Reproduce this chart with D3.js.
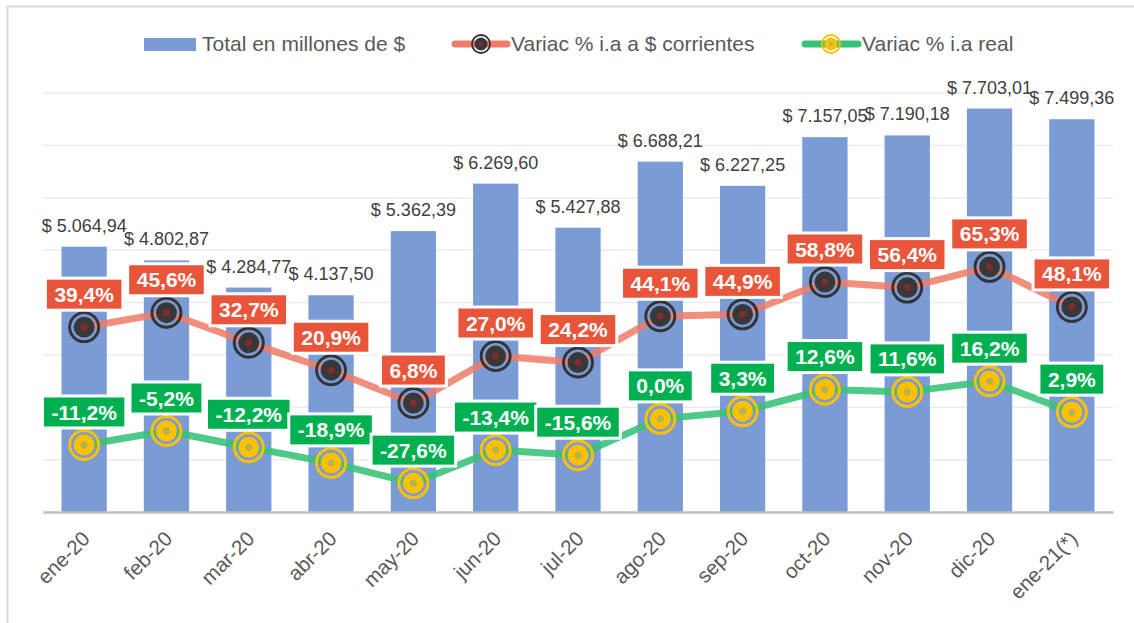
<!DOCTYPE html>
<html>
<head>
<meta charset="utf-8">
<script src="https://cdn.jsdelivr.net/npm/d3@7"></script>
<style>
  body { margin: 0; background: #fff; }
  svg { font-family: "Liberation Sans", Arial, sans-serif; }
</style>
</head>
<body>
<svg width="1134" height="623"></svg>
<script>
var categories = ["ene-20", "feb-20", "mar-20", "abr-20", "may-20", "jun-20", "jul-20",
    "ago-20", "sep-20", "oct-20", "nov-20", "dic-20", "ene-21(*)"];
var totalMillones = [5064.94, 4802.87, 4284.77, 4137.50, 5362.39, 6269.60, 5427.88,
    6688.21, 6227.25, 7157.05, 7190.18, 7703.01, 7499.36];
var variacCorrientes = [39.4, 45.6, 32.7, 20.9, 6.8, 27.0, 24.2, 44.1, 44.9, 58.8, 56.4, 65.3, 48.1];
var variacReal = [-11.2, -5.2, -12.2, -18.9, -27.6, -13.4, -15.6, 0.0, 3.3, 12.6, 11.6, 16.2, 2.9];
var seriesNames = ["Total en millones de $", "Variac % i.a a $ corrientes", "Variac % i.a real"];

var es = d3.formatLocale({decimal: ",", thousands: ".", grouping: [3], currency: ["$ ", ""], minus: "-"});
var fmtMoney = es.format("$,.2f");
var fmtPct = function (v) { return es.format(".1f")(v) + "%"; };

var svg = d3.select("svg");
var margin = {top: 93, right: 21, bottom: 111, left: 43},
    width = 1134 - margin.left - margin.right,
    height = 623 - margin.top - margin.bottom;

var data = categories.map(function (c, i) {
    return {cat: c, total: totalMillones[i], corr: variacCorrientes[i], real: variacReal[i]};
});

// frame
svg.append("path")
    .attr("d", "M7.5,623 V6.5 H1134")
    .attr("fill", "none")
    .attr("stroke", "#d9d9d9")
    .attr("stroke-width", 2);

var g = svg.append("g").attr("transform", "translate(" + margin.left + "," + margin.top + ")");

var x = d3.scaleBand().domain(categories).range([0, width]).paddingInner(0.45).paddingOuter(0.225);
var y = d3.scaleLinear().domain([0, 8000]).range([height, 0]);
var y2 = d3.scaleLinear().domain([-40, 140]).range([height, 0]);

// gridlines
g.append("g")
    .selectAll("line")
    .data(y.ticks(8).filter(function (t) { return t > 0; }))
    .enter().append("line")
    .attr("x1", 0).attr("x2", width)
    .attr("y1", function (d) { return y(d); })
    .attr("y2", function (d) { return y(d); })
    .attr("stroke", "#ebebeb")
    .attr("stroke-width", 1.5);

// bars
g.selectAll(".bar")
    .data(data)
    .enter().append("rect")
    .attr("class", "bar")
    .attr("x", function (d) { return x(d.cat); })
    .attr("y", function (d) { return y(d.total); })
    .attr("width", x.bandwidth())
    .attr("height", function (d) { return height - y(d.total); })
    .attr("fill", "#7b9bd6");

// x axis
var xAxis = g.append("g")
    .attr("transform", "translate(0," + height + ")")
    .call(d3.axisBottom(x).tickSize(0).tickFormat(""));
xAxis.select(".domain").attr("stroke", "#bfbfbf").attr("stroke-width", 2.5);

g.append("g")
    .selectAll("text")
    .data(categories)
    .enter().append("text")
    .attr("transform", function (d) {
        return "translate(" + (x(d) + x.bandwidth() / 2 + 7) + "," + (height + 28) + ") rotate(-45)";
    })
    .attr("text-anchor", "end")
    .attr("font-size", 20.5)
    .attr("fill", "#595959")
    .text(function (d) { return d; });

var cx = function (d) { return x(d.cat) + x.bandwidth() / 2; };

// lines
var lineCorr = d3.line().x(cx).y(function (d) { return y2(d.corr); });
var lineReal = d3.line().x(cx).y(function (d) { return y2(d.real); });

g.append("path")
    .datum(data)
    .attr("d", lineCorr)
    .attr("fill", "none")
    .attr("stroke", "#ef7b68")
    .attr("stroke-opacity", 0.85)
    .attr("stroke-width", 7)
    .attr("stroke-linejoin", "round");

g.append("path")
    .datum(data)
    .attr("d", lineReal)
    .attr("fill", "none")
    .attr("stroke", "#37c276")
    .attr("stroke-opacity", 0.88)
    .attr("stroke-width", 7)
    .attr("stroke-linejoin", "round");

function marker(sel, ring, fill, dot, r) {
    sel.append("circle").attr("r", r).attr("fill", "none").attr("stroke", ring).attr("stroke-width", r * 0.2);
    sel.append("circle").attr("r", r * 0.72).attr("fill", fill);
    sel.append("circle").attr("r", r * 0.25).attr("fill", dot);
}

g.selectAll(".mCorr")
    .data(data)
    .enter().append("g")
    .attr("transform", function (d) { return "translate(" + cx(d) + "," + y2(d.corr) + ")"; })
    .call(marker, "#333333", "#383838", "#7a2e2e", 14.5);

g.selectAll(".mReal")
    .data(data)
    .enter().append("g")
    .attr("transform", function (d) { return "translate(" + cx(d) + "," + y2(d.real) + ")"; })
    .call(marker, "#ffc000", "#ffc000", "#b8b44a", 14.5);

// percentage labels
function pctLabels(key, color) {
    var lab = g.append("g")
        .selectAll("g")
        .data(data)
        .enter().append("g")
        .attr("transform", function (d) { return "translate(" + cx(d) + "," + (y2(d[key]) - 33) + ")"; });
    var rect = lab.append("rect")
        .attr("fill", color)
        .attr("stroke", "#fff")
        .attr("stroke-width", 3);
    var txt = lab.append("text")
        .attr("text-anchor", "middle")
        .attr("dy", "0.36em")
        .attr("font-size", 21)
        .attr("font-weight", "bold")
        .attr("fill", "#fff")
        .text(function (d) { return fmtPct(d[key]); });
    txt.each(function (d, i) {
        var w = this.getComputedTextLength() + 18;
        d3.select(rect.nodes()[i])
            .attr("x", -w / 2).attr("y", -16)
            .attr("width", w).attr("height", 32);
    });
}
pctLabels("corr", "#e8553a");
pctLabels("real", "#00b050");

// bar value labels
g.selectAll(".val")
    .data(data)
    .enter().append("text")
    .attr("x", cx)
    .attr("y", function (d) { return y(d.total) - 15; })
    .attr("text-anchor", "middle")
    .attr("font-size", 18)
    .attr("fill", "#404040")
    .text(function (d) { return fmtMoney(d.total); });

// legend
var legend = svg.append("g").attr("transform", "translate(0,44)");
legend.append("rect").attr("x", 144).attr("y", -6).attr("width", 52).attr("height", 13).attr("fill", "#7b9bd6");
legend.append("text").attr("x", 202).attr("y", 7).attr("font-size", 21).attr("fill", "#595959").text(seriesNames[0]);

legend.append("line").attr("x1", 455).attr("x2", 507).attr("stroke", "#ef7b68").attr("stroke-width", 7).attr("stroke-linecap", "round");
legend.append("g").attr("transform", "translate(481,0)").call(marker, "#333333", "#383838", "#7a2e2e", 9);
legend.append("text").attr("x", 511).attr("y", 7).attr("font-size", 21).attr("fill", "#595959").text(seriesNames[1]);

legend.append("line").attr("x1", 805).attr("x2", 858).attr("stroke", "#37c276").attr("stroke-width", 7).attr("stroke-linecap", "round");
legend.append("g").attr("transform", "translate(831,0)").call(marker, "#ffc000", "#ffc000", "#b8b44a", 9);
legend.append("text").attr("x", 862).attr("y", 7).attr("font-size", 21).attr("fill", "#595959").text(seriesNames[2]);
</script>
</body>
</html>
